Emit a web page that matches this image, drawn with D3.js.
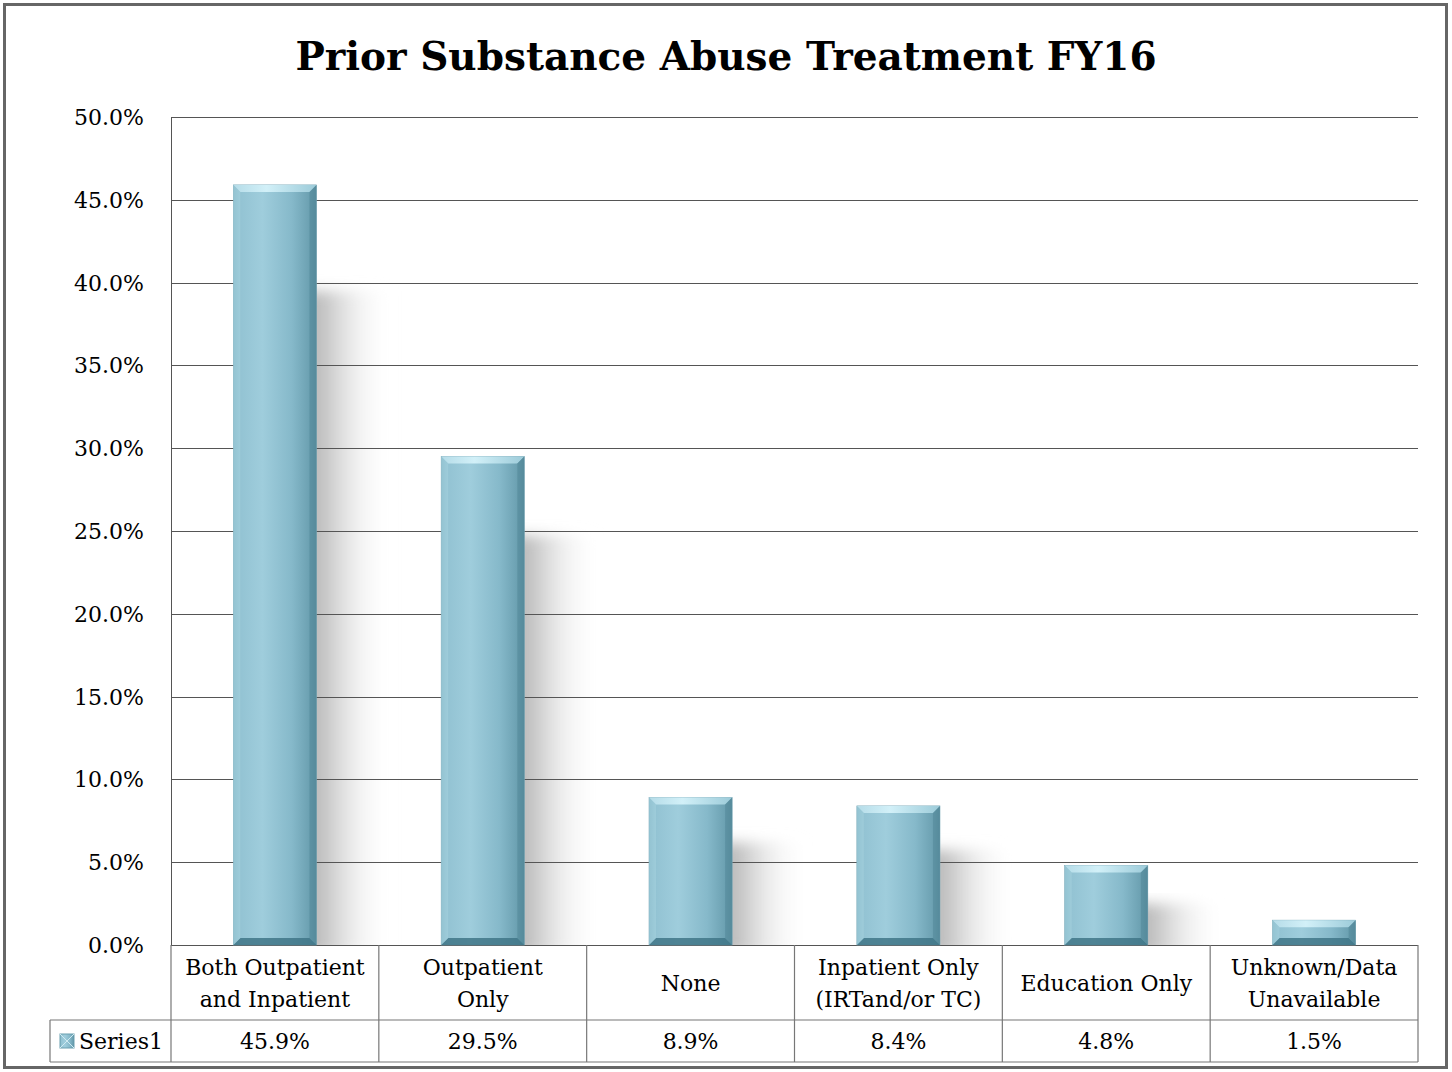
<!DOCTYPE html>
<html><head><meta charset="utf-8">
<script src="https://cdn.jsdelivr.net/npm/d3@7"></script>
<style>body{margin:0;background:#fff}svg{display:block}text{font-family:"DejaVu Serif","Liberation Serif",serif;fill:#000}</style>
</head><body>
<svg id="c" width="1452" height="1072"></svg>
<script>
const categories = [["Both Outpatient","and Inpatient"],["Outpatient","Only"],["None"],["Inpatient Only","(IRTand/or TC)"],["Education Only"],["Unknown/Data","Unavailable"]];
const values = [45.9, 29.5, 8.9, 8.4, 4.8, 1.5];
const valueLabels = ["45.9%","29.5%","8.9%","8.4%","4.8%","1.5%"];
const yTicks = [0,5,10,15,20,25,30,35,40,45,50];
const seriesName = "Series1";
const title = "Prior Substance Abuse Treatment FY16";

const svg = d3.select("#c");
const L=171, R=1418, T=117, B=945;
const x = d3.scaleBand().domain(d3.range(values.length)).range([L,R]).paddingInner(0.6).paddingOuter(0.3);
const xb = d3.scaleBand().domain(d3.range(values.length)).range([L,R]);
const y = d3.scaleLinear().domain([0,50]).range([B,T]);

const defs = svg.append("defs");
const g1 = defs.append("linearGradient").attr("id","bar").attr("x1",0).attr("x2",1).attr("y1",0).attr("y2",0);
[[0,"#7fb3c4"],[0.08,"#93c3d3"],[0.35,"#9fcddc"],[0.7,"#86b9ca"],[0.93,"#6a9fb0"],[1,"#5a8e9f"]].forEach(s=>g1.append("stop").attr("offset",s[0]).attr("stop-color",s[1]));
const g2 = defs.append("linearGradient").attr("id","shadow").attr("x1",0).attr("x2",1).attr("y1",0).attr("y2",0);
[[0,"#a8a8a8",1],[0.4,"#c0c0c0",1],[1,"#ffffff",0]].forEach(s=>g2.append("stop").attr("offset",s[0]).attr("stop-color",s[1]).attr("stop-opacity",s[2]));
const g3 = defs.append("linearGradient").attr("id","topb").attr("x1",0).attr("x2",1).attr("y1",0).attr("y2",0);
[[0,"#b5dce8"],[0.4,"#d2f0f8"],[1,"#9ccbd9"]].forEach(s=>g3.append("stop").attr("offset",s[0]).attr("stop-color",s[1]));
defs.append("filter").attr("id","blur").attr("x","-20%").attr("y","-20%").attr("width","140%").attr("height","140%")
  .append("feGaussianBlur").attr("stdDeviation",7);

// outer border
svg.append("rect").attr("x",4.5).attr("y",4.5).attr("width",1442).attr("height",1063).attr("fill","#fff").attr("stroke","#666").attr("stroke-width",3);

// title
svg.append("text").attr("x",726).attr("y",70).attr("text-anchor","middle").attr("font-size",39).attr("font-weight","bold").text(title);

// shadows
const bw = x.bandwidth();
svg.append("g").selectAll("rect").data(values).join("rect")
  .attr("x",(d,i)=>x(i)+bw*0.5).attr("width",bw*1.4)
  .attr("y",d=>y(d)+30+(B-y(d))*0.1).attr("height",d=>B-(y(d)+30+(B-y(d))*0.1)+10)
  .attr("fill","url(#shadow)").attr("filter","url(#blur)");
// cover shadow below axis
svg.append("rect").attr("x",L+1).attr("y",B+1).attr("width",R-L).attr("height",40).attr("fill","#fff");

// gridlines
svg.append("g").selectAll("line").data(yTicks).join("line")
  .attr("x1",L).attr("x2",R).attr("y1",d=>Math.round(y(d))+0.5).attr("y2",d=>Math.round(y(d))+0.5)
  .attr("stroke","#555").attr("stroke-width",1);
svg.append("line").attr("x1",L+0.5).attr("x2",L+0.5).attr("y1",T).attr("y2",B).attr("stroke","#555");

// y labels
svg.append("g").selectAll("text").data(yTicks).join("text")
  .attr("x",144).attr("y",d=>y(d)+8).attr("text-anchor","end").attr("font-size",22).text(d=>d.toFixed(1)+"%");

// bars
const bars = svg.append("g").selectAll("g").data(values).join("g");
bars.append("rect").attr("x",(d,i)=>x(i)).attr("width",bw).attr("y",d=>y(d)).attr("height",d=>B-y(d)).attr("fill","url(#bar)").attr("stroke","#7aa9b8").attr("stroke-width",0.6);
const bev = 7;
bars.append("path").attr("d",(d,i)=>{const x0=x(i),x1=x0+bw,t=y(d);return `M${x0},${t}L${x1},${t}L${x1-bev},${t+bev}L${x0+bev},${t+bev}Z`;}).attr("fill","url(#topb)");
bars.append("path").attr("d",(d,i)=>{const x0=x(i),x1=x0+bw;return `M${x0},${B}L${x1},${B}L${x1-bev},${B-bev}L${x0+bev},${B-bev}Z`;}).attr("fill","#3f7687").attr("opacity",0.85);
bars.append("path").attr("d",(d,i)=>{const x0=x(i),x1=x0+bw,t=y(d);return `M${x1},${t}L${x1},${B}L${x1-bev},${B-bev}L${x1-bev},${t+bev}Z`;}).attr("fill","#54899a").attr("opacity",0.6);
bars.append("path").attr("d",(d,i)=>{const x0=x(i),t=y(d);return `M${x0},${t}L${x0},${B}L${x0+bev},${B-bev}L${x0+bev},${t+bev}Z`;}).attr("fill","#a8d3e0").attr("opacity",0.5);

// data table
const tb = svg.append("g").attr("stroke","#777").attr("stroke-width",1.2).attr("fill","none");
const rowH1 = 1020, rowH2 = 1062;
tb.append("line").attr("x1",L).attr("x2",R).attr("y1",rowH1).attr("y2",rowH1);
tb.append("line").attr("x1",50).attr("x2",R).attr("y1",rowH2).attr("y2",rowH2);
tb.append("line").attr("x1",50).attr("x2",L).attr("y1",rowH1).attr("y2",rowH1);
tb.append("line").attr("x1",50).attr("x2",50).attr("y1",rowH1).attr("y2",rowH2);
tb.selectAll(".v").data(d3.range(values.length+1)).join("line")
  .attr("x1",i=>i<values.length?xb(i):R).attr("x2",i=>i<values.length?xb(i):R).attr("y1",B).attr("y2",rowH2);

// category labels
const cl = svg.append("g").selectAll("text").data(categories).join("text")
  .attr("text-anchor","middle").attr("font-size",22);
cl.each(function(d,i){
  const t=d3.select(this), cx=xb(i)+xb.bandwidth()/2;
  const mid=(B+rowH1)/2, lh=32;
  d.forEach((line,k)=>t.append("tspan").attr("x",cx).attr("y",mid+8+(k-(d.length-1)/2)*lh).text(line));
});
// values
svg.append("g").selectAll("text").data(valueLabels).join("text")
  .attr("x",(d,i)=>xb(i)+xb.bandwidth()/2).attr("y",(rowH1+rowH2)/2+8).attr("text-anchor","middle").attr("font-size",22).text(d=>d);

// legend key
svg.append("rect").attr("x",60).attr("y",1034).attr("width",14).attr("height",14).attr("fill","url(#bar)").attr("stroke","#6a9fb0");
svg.append("path").attr("d","M60,1034L74,1048M74,1034L60,1048").attr("stroke","#cfeaf2").attr("stroke-width",1);
svg.append("text").attr("x",79).attr("y",1049).attr("font-size",22).text(seriesName);
</script>
</body></html>
